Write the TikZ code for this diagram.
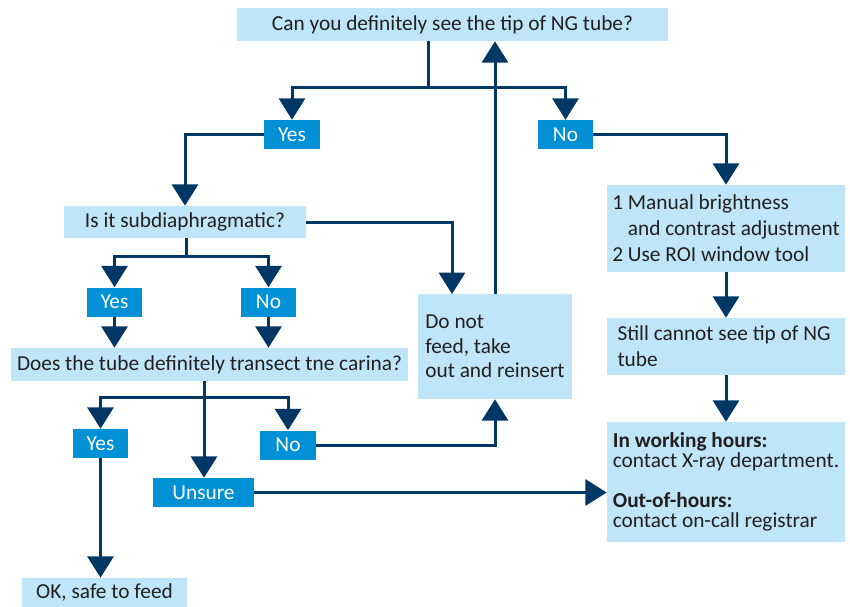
\documentclass[tikz,border=0pt]{standalone}
\usepackage{fontspec}
\setmainfont{Carlito}
\usetikzlibrary{arrows.meta}
\definecolor{lb}{HTML}{BEE6F8}
\definecolor{db}{HTML}{0090D5}
\definecolor{nv}{HTML}{003764}
\definecolor{tx}{HTML}{231F20}
\begin{document}
\begin{tikzpicture}[x=0.75pt,y=-0.75pt,
 lbox/.style={fill=lb,inner sep=0pt,text=tx,font=\fontsize{16}{19.5}\selectfont},
 dbox/.style={fill=db,inner sep=0pt,text=white,font=\fontsize{16}{19}\selectfont,minimum width=41.5pt,minimum height=21.75pt},
 ln/.style={draw=nv,line width=2.25pt},
 arr/.style={ln,-{Triangle[width=19.5pt,length=16pt]}}]
\useasboundingbox (0,0) rectangle (850,607);

% light boxes
\node[lbox,minimum width=323.25pt,minimum height=24.75pt] (top) at (452.5,24.5) {Can you definitely see the tip of NG tube?};
\node[lbox,minimum width=181.5pt,minimum height=24pt] (sub) at (185,222) {Is it subdiaphragmatic?};
\node[lbox,minimum width=297.75pt,minimum height=24.75pt] (car) at (209.5,364.5) {Does the tube definitely transect tne carina?};
\node[lbox,minimum width=115.5pt,minimum height=78.75pt,align=left,font=\fontsize{16}{18.5}\selectfont] (dont) at (495,346.5) {Do not\\feed, take\\out and reinsert};
\node[lbox,minimum width=123.75pt,minimum height=21.75pt] (ok) at (104.5,592.5) {OK, safe to feed};
\node[lbox,minimum width=178.5pt,minimum height=65.25pt,align=left] (man) at (726,228.5) {1 Manual brightness\\\phantom{1 }and contrast adjustment\\2 Use ROI window tool};
\node[lbox,minimum width=178.5pt,minimum height=42.75pt,align=left] (still) at (726,346.5) {Still cannot see tip of NG\\tube\hphantom{cannot see tip of NG}};
\node[lbox,minimum width=178.5pt,minimum height=90pt,align=left,font=\fontsize{16}{15}\selectfont] (work) at (726,482) {\textbf{In working hours:}\\contact X-ray department.\\[15.5pt]\textbf{Out-of-hours:}\\contact on-call registrar};

% dark boxes
\node[dbox] (yes1) at (292,134.5) {Yes};
\node[dbox] (no1) at (565.5,134.5) {No};
\node[dbox] (yes2) at (114.5,302) {Yes};
\node[dbox] (no2) at (268.5,302) {No};
\node[dbox] (yes3) at (100.5,443.5) {Yes};
\node[dbox] (no3) at (288,445) {No};
\node[dbox,minimum width=75.75pt] (uns) at (203.5,492.5) {Unsure};

% junctions
\coordinate (j1) at (428,87);
\coordinate (j2) at (186,256);
\coordinate (j3) at (204,397);
\coordinate (d1) at (452,294);

% connectors
\draw[ln] (top.south -| j1) -- (j1);
\draw[arr] (j1) -| (yes1.north);
\draw[arr] (j1) -| (no1.north);
\draw[arr] (yes1.west) -| (sub.north);
\draw[arr] (no1.east) -| (man.north);
\draw[arr] (dont.north) -- (dont.north |- top.south);
\draw[arr] (sub.east) -| (d1);
\draw[ln] (sub.south -| j2) -- (j2);
\draw[arr] (j2) -| (yes2.north);
\draw[arr] (j2) -| (no2.north);
\draw[arr] (yes2.south) -- (yes2.south |- car.north);
\draw[arr] (no2.south) -- (no2.south |- car.north);
\draw[ln] (car.south -| j3) -- (j3);
\draw[arr] (j3) -| (yes3.north);
\draw[arr] (j3) -| (no3.north);
\draw[arr] (j3) -- (j3 |- uns.north);
\draw[arr] (no3.east) -| (dont.south);
\draw[arr] (uns.east) -- (uns.east -| work.west);
\draw[arr] (yes3.south) -- (yes3.south |- ok.north);
\draw[arr] (man.south) -- (still.north);
\draw[arr] (still.south) -- (work.north);
\end{tikzpicture}
\end{document}
